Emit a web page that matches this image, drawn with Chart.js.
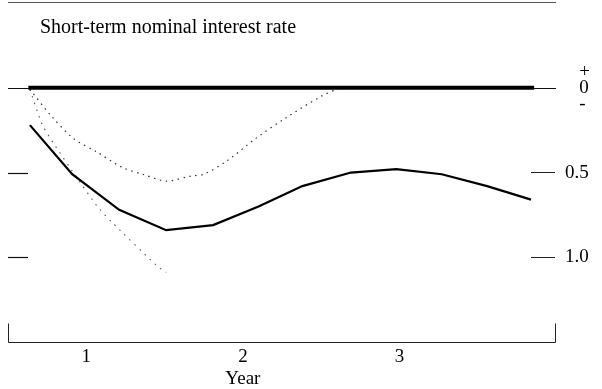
<!DOCTYPE html>
<html>
<head>
<meta charset="utf-8">
<script src="https://cdn.jsdelivr.net/npm/chart.js@4"></script>
<style>
  html, body { margin: 0; padding: 0; background: #fff; }
  canvas { display: block; }
</style>
</head>
<body>
<canvas id="rateChart" width="602" height="389"></canvas>
<script>
// Short-term nominal interest rate response (deviation, shown downward)
const titleText = 'Short-term nominal interest rate';
const axisTitle = 'Year';

// x in years from the start of the bracket
const solidX = [0.14, 0.41, 0.71, 1.01, 1.31, 1.60, 1.88, 2.19, 2.48, 2.77, 3.06, 3.34];
const solidY = [0.22, 0.51, 0.72, 0.84, 0.81, 0.70, 0.58, 0.50, 0.48, 0.51, 0.58, 0.66];

const dottedX = [0.14, 0.28, 0.42, 0.57, 0.73, 0.86, 1.01, 1.17, 1.25, 1.40, 1.58, 1.77, 2.00, 2.12];
const dottedY = [0.01, 0.17, 0.30, 0.38, 0.47, 0.51, 0.55, 0.52, 0.51, 0.43, 0.30, 0.18, 0.05, 0.00];

const steepX = [0.14, 0.22, 0.30, 0.44, 0.57, 0.66, 0.95, 1.01];
const steepY = [0.01, 0.22, 0.34, 0.53, 0.70, 0.79, 1.05, 1.09];

const zeroX = [0.13, 3.36];
const zeroY = [0, 0];

const yearTicks = [0.5, 1.5, 2.5];
const yearLabels = ['1', '2', '3'];
const rateTicks = [0, 0.5, 1.0];

const SERIF = '"Liberation Serif", "DejaVu Serif", serif';

function pts(xs, ys) {
    return xs.map((x, i) => ({ x: x, y: ys[i] }));
}

// frame pieces: top rule, zero rule, left ticks, bottom bracket, titles
const framePlugin = {
    id: 'frame',
    beforeDatasetsDraw(chart) {
        const { ctx, chartArea, scales } = chart;
        const yS = scales.y;
        const left = chartArea.left;
        const farRight = chartArea.right + 25;
        ctx.save();
        ctx.strokeStyle = '#111';
        ctx.lineWidth = 1;
        // thin zero rule across the whole frame
        const y0 = Math.round(yS.getPixelForValue(0)) + 0.5;
        ctx.beginPath();
        ctx.moveTo(left, y0);
        ctx.lineTo(farRight, y0);
        ctx.stroke();
        // left tick marks
        ctx.lineWidth = 1.2;
        [0.5, 1.0].forEach(v => {
            const y = Math.round(yS.getPixelForValue(v)) + 0.5;
            ctx.beginPath();
            ctx.moveTo(left, y);
            ctx.lineTo(left + 20, y);
            ctx.stroke();
        });
        ctx.restore();
    },
    afterDraw(chart) {
        const { ctx, chartArea, scales } = chart;
        const left = chartArea.left;
        const farRight = chartArea.right + 25;
        const bottom = chartArea.bottom + 0.5;
        ctx.save();
        // top rule
        ctx.strokeStyle = '#555';
        ctx.lineWidth = 1.2;
        ctx.beginPath();
        ctx.moveTo(left, 2.5);
        ctx.lineTo(farRight, 2.5);
        ctx.stroke();
        // bottom bracket
        ctx.strokeStyle = '#222';
        ctx.lineWidth = 1;
        ctx.beginPath();
        ctx.moveTo(left + 0.5, bottom - 19);
        ctx.lineTo(left + 0.5, bottom);
        ctx.lineTo(farRight - 0.5, bottom);
        ctx.lineTo(farRight - 0.5, bottom - 19);
        ctx.stroke();
        // texts
        ctx.fillStyle = '#000';
        ctx.font = '20px ' + SERIF;
        ctx.textAlign = 'left';
        ctx.textBaseline = 'alphabetic';
        ctx.fillText(titleText, 40, 33);
        ctx.font = '19px ' + SERIF;
        ctx.textAlign = 'center';
        ctx.fillText(axisTitle, scales.x.getPixelForValue(1.5), 384);
        ctx.restore();
    }
};

const chart = new Chart(document.getElementById('rateChart'), {
    type: 'line',
    data: {
        datasets: [
            {
                label: 'Zero',
                data: pts(zeroX, zeroY),
                borderColor: '#000',
                borderWidth: 4,
                pointRadius: 0
            },
            {
                label: 'Baseline',
                data: pts(solidX, solidY),
                borderColor: '#000',
                borderWidth: 2.2,
                pointRadius: 0,
                tension: 0
            },
            {
                label: 'Alternative A',
                data: pts(dottedX, dottedY),
                borderColor: '#333',
                borderWidth: 1.2,
                borderDash: [1.5, 4.5],
                pointRadius: 0,
                tension: 0.3
            },
            {
                label: 'Alternative B',
                data: pts(steepX, steepY),
                borderColor: '#555',
                borderWidth: 1.1,
                borderDash: [1.5, 5.5],
                pointRadius: 0,
                tension: 0.2
            }
        ]
    },
    options: {
        responsive: false,
        animation: false,
        devicePixelRatio: 1,
        clip: false,
        layout: { padding: { left: 8, right: 0, top: 37, bottom: 0 } },
        plugins: {
            legend: { display: false },
            tooltip: { enabled: false },
            title: { display: false }
        },
        scales: {
            x: {
                type: 'linear',
                min: 0,
                max: 3.34,
                afterBuildTicks: s => { s.ticks = yearTicks.map(v => ({ value: v })); },
                afterFit: s => { s.height = 47; },
                ticks: {
                    autoSkip: false,
                    maxRotation: 0,
                    padding: 4,
                    color: '#000',
                    font: { family: SERIF, size: 19 },
                    callback: (v, i) => yearLabels[i]
                },
                grid: { display: false, drawTicks: false },
                border: { display: false }
            },
            y: {
                type: 'linear',
                position: 'right',
                reverse: true,
                min: -0.3,
                max: 1.5,
                afterBuildTicks: s => { s.ticks = rateTicks.map(v => ({ value: v })); },
                afterFit: s => { s.width = 71; },
                ticks: {
                    padding: 10,
                    color: '#000',
                    font: { family: SERIF, size: 19, lineHeight: 0.85 },
                    callback: v => v === 0 ? ['   +', '   0', '   -'] : v.toFixed(1)
                },
                grid: {
                    drawOnChartArea: false,
                    drawTicks: true,
                    tickLength: 24,
                    lineWidth: 1,
                    color: c => (c.tick && c.tick.value === 0) ? 'rgba(0,0,0,0)' : '#222'
                },
                border: { display: false }
            }
        }
    },
    plugins: [framePlugin]
});
</script>
</body>
</html>
